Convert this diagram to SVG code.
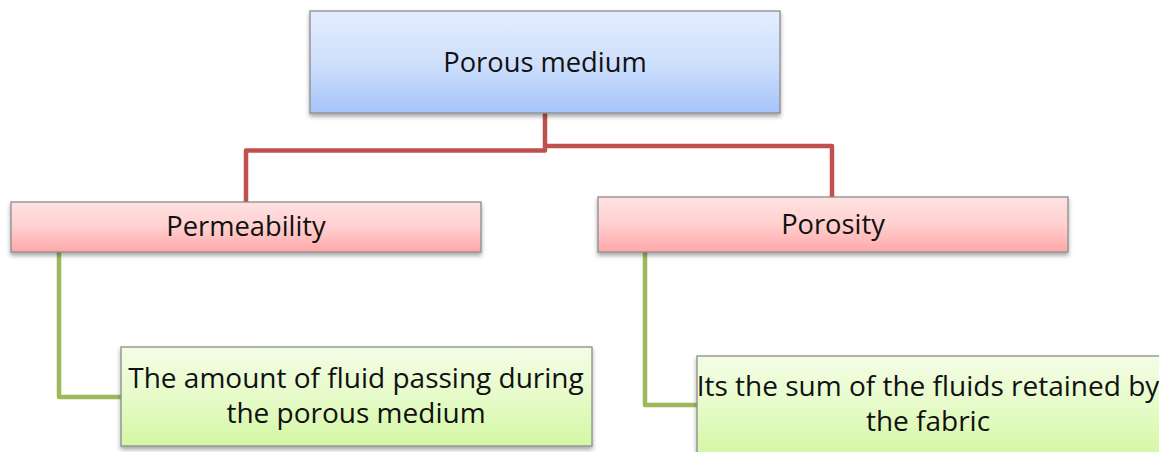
<svg xmlns="http://www.w3.org/2000/svg" width="1159" height="452" viewBox="0 0 1159 452">
<style>
.box{stroke:#8c8c8c;stroke-width:1.3}
.t{font-family:"Open Sans","Liberation Sans",sans-serif;font-size:27.3px;fill:#111;text-anchor:middle}
.t2{font-size:28px}
.red{fill:none;stroke:#c0504d;stroke-width:4.5;stroke-linejoin:round}
.grn{fill:none;stroke:#9bbb59;stroke-width:4.5;stroke-linejoin:round}
</style>
<defs>
<linearGradient id="gBlue" x1="0" y1="0" x2="0" y2="1"><stop offset="0" stop-color="#e3edfd"/><stop offset="0.5" stop-color="#cfe0fc"/><stop offset="1" stop-color="#a5c4fa"/></linearGradient>
<linearGradient id="gPink" x1="0" y1="0" x2="0" y2="1"><stop offset="0" stop-color="#ffe2e2"/><stop offset="0.5" stop-color="#ffcfcf"/><stop offset="1" stop-color="#ffa8a8"/></linearGradient>
<linearGradient id="gGreen" x1="0" y1="0" x2="0" y2="1"><stop offset="0" stop-color="#f3fde6"/><stop offset="0.5" stop-color="#e6fbc9"/><stop offset="1" stop-color="#d4f7a4"/></linearGradient>
<filter id="sh" x="-5%" y="-20%" width="110%" height="150%"><feDropShadow dx="0" dy="3" stdDeviation="2" flood-color="#000" flood-opacity="0.35"/></filter>
</defs>
<rect width="1159" height="452" fill="#ffffff"/>
<g id="connectors">
<path class="red" d="M545,113 V150.5 H246 V202"/>
<path class="red" d="M545,146 H832 V197"/>
<path class="grn" d="M59,252 V397 H121"/>
<path class="grn" d="M645,252 V405 H697"/>
</g>
<g id="node-porous-medium">
<rect class="box" x="310" y="11" width="470" height="102" fill="url(#gBlue)" filter="url(#sh)"/>
<text class="t" x="545" y="72">Porous medium</text>
</g>
<g id="node-permeability">
<rect class="box" x="11" y="202" width="470" height="50" fill="url(#gPink)" filter="url(#sh)"/>
<text class="t" x="246" y="236">Permeability</text>
</g>
<g id="node-porosity">
<rect class="box" x="598" y="197" width="470" height="55" fill="url(#gPink)" filter="url(#sh)"/>
<text class="t" x="833" y="234">Porosity</text>
</g>
<g id="node-permeability-def">
<rect class="box" x="121" y="347" width="471" height="99" fill="url(#gGreen)" filter="url(#sh)"/>
<text class="t t2" x="356" y="388">The amount of fluid passing during</text>
<text class="t t2" x="356" y="423">the porous medium</text>
</g>
<g id="node-porosity-def">
<rect class="box" x="697" y="356" width="470" height="100" fill="url(#gGreen)" filter="url(#sh)"/>
<text class="t t2" x="928" y="396">Its the sum of the fluids retained by</text>
<text class="t t2" x="928" y="431">the fabric</text>
</g>
</svg>
